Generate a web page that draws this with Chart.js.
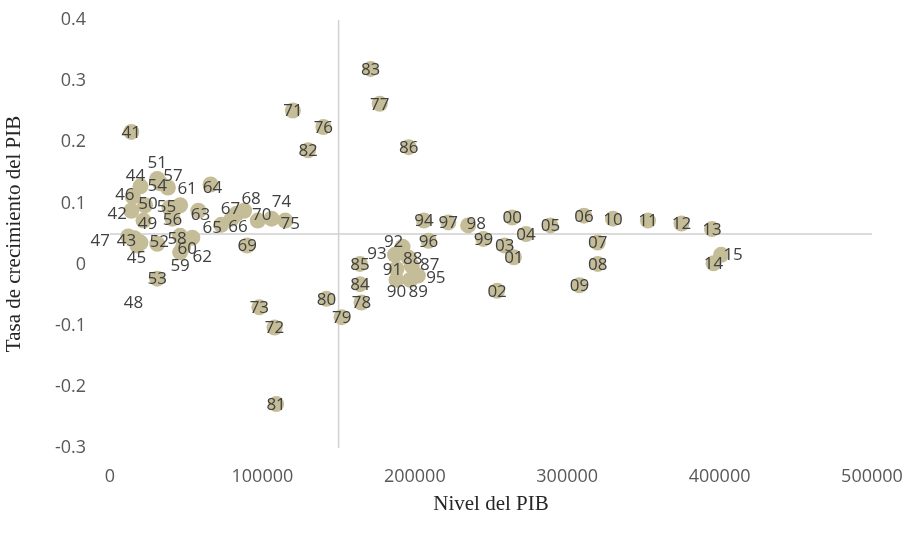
<!DOCTYPE html>
<html>
<head>
<meta charset="utf-8">
<script src="https://cdn.jsdelivr.net/npm/chart.js@4"></script>
<style>
  body { margin: 0; background: #fff; }
</style>
</head>
<body>
<canvas id="grafico" width="912" height="540"></canvas>
<script>
// Años (etiqueta de cada punto), 1941-2015
const anos = ['41','42','43','44','45','46','47','48','49','50',
              '51','52','53','54','55','56','57','58','59','60',
              '61','62','63','64','65','66','67','68','69','70',
              '71','72','73','74','75','76','77','78','79','80',
              '81','82','83','84','85','86','87','88','89','90',
              '91','92','93','94','95','96','97','98','99','00',
              '01','02','03','04','05','06','07','08','09','10',
              '11','12','13','14','15'];

// Nivel del PIB (eje X)
const nivelPib = [14000, 14000, 16000, 20000, 18000, 15000, 12000, 20000, 22000, 23000,
                  31000, 31000, 31000, 33000, 39000, 41000, 38000, 46000, 46000, 48000,
                  46000, 54000, 58000, 66000, 73000, 80000, 83000, 88000, 90000, 97000,
                  120000, 108000, 98000, 106000, 115000, 140000, 177000, 165000, 152000, 142000,
                  109000, 130000, 171000, 164000, 164000, 196000, 198000, 196000, 197000, 188000,
                  188000, 192000, 187000, 206000, 202000, 209000, 222000, 235000, 245000, 264000,
                  265000, 254000, 259000, 273000, 289000, 311000, 320000, 320000, 308000, 330000,
                  353000, 375000, 395000, 396000, 401000];

// Tasa de crecimiento del PIB (eje Y)
const tasaCrecimiento = [0.217, 0.088, 0.043, 0.128, 0.031, 0.111, 0.046, 0.036, 0.072, 0.097,
                         0.140, 0.034, -0.023, 0.133, 0.093, 0.075, 0.126, 0.047, 0.020, 0.029,
                         0.097, 0.044, 0.088, 0.131, 0.065, 0.075, 0.083, 0.088, 0.031, 0.072,
                         0.252, -0.103, -0.070, 0.075, 0.072, 0.225, 0.263, -0.062, -0.086, -0.056,
                         -0.228, 0.187, 0.320, -0.032, 0.001, 0.192, -0.002, 0.011, -0.025, -0.025,
                         -0.007, 0.029, 0.016, 0.072, -0.018, 0.039, 0.069, 0.064, 0.042, 0.077,
                         0.012, -0.043, 0.031, 0.050, 0.064, 0.080, 0.036, 0.001, -0.034, 0.075,
                         0.072, 0.067, 0.058, 0.002, 0.016];

// Donde se cruzan los ejes
const cruceX = 150000;
const cruceY = 0.05;

// Etiquetas que en el original están movidas respecto a su punto (px)
const desplazamientoEtiqueta = {
    '42': [-14, 2], '43': [-8, 2], '44': [-5, -11], '45': [-1, 12], '46': [-8, -3],
    '47': [-28, 4], '48': [-7, 60], '49': [4, 3], '50': [3, -2], '51': [0, -17],
    '52': [2, -3], '54': [-3, 2], '55': [-3, -2], '57': [5, -12], '58': [-3, 2],
    '59': [0, 13], '60': [4, 1], '61': [7, -17], '62': [10, 18], '63': [2, 3],
    '64': [2, 3], '65': [-9, 2], '66': [6, 7], '67': [-6, -6], '68': [7, -13],
    '70': [4, -6], '74': [10, -18], '75': [5, 3],
    '87': [18, -2], '88': [4, 0], '89': [8, 11], '90': [0, 11], '91': [-4, 0],
    '92': [-9, -6], '93': [-18, -2], '95': [18, 2], '98': [8, -2], '15': [12, -1]
};

const puntos = nivelPib.map((x, i) => ({ x: x, y: tasaCrecimiento[i] }));

// Dibuja las dos líneas de ejes que se cruzan dentro del gráfico
const ejesCruzados = {
    id: 'ejesCruzados',
    beforeDatasetsDraw(chart) {
        const { ctx, chartArea, scales } = chart;
        const px = scales.x.getPixelForValue(cruceX);
        const py = scales.y.getPixelForValue(cruceY);
        ctx.save();
        ctx.strokeStyle = '#D0D0D0';
        ctx.lineWidth = 1.5;
        ctx.beginPath();
        ctx.moveTo(px, chartArea.top);
        ctx.lineTo(px, chartArea.bottom);
        ctx.moveTo(chartArea.left, py);
        ctx.lineTo(chartArea.right, py);
        ctx.stroke();
        ctx.restore();
    }
};

// Etiqueta de año sobre cada punto
const etiquetasAno = {
    id: 'etiquetasAno',
    afterDatasetsDraw(chart) {
        const ctx = chart.ctx;
        const meta = chart.getDatasetMeta(0);
        ctx.save();
        ctx.font = '17px "Open Sans"';
        ctx.fillStyle = '#404040';
        ctx.textAlign = 'center';
        ctx.textBaseline = 'middle';
        meta.data.forEach((p, i) => {
            const d = desplazamientoEtiqueta[anos[i]] || [0, 0];
            ctx.fillText(anos[i], p.x + d[0], p.y + d[1] + 1);
        });
        ctx.restore();
    }
};

// Rejilla invisible: sólo sirve para separar las etiquetas del área
const rejillaOculta = (largo) => ({
    display: true,
    color: 'rgba(0,0,0,0)',
    drawOnChartArea: false,
    drawTicks: true,
    tickLength: largo
});

new Chart(document.getElementById('grafico'), {
    type: 'scatter',
    data: {
        datasets: [{
            data: puntos,
            backgroundColor: '#C4BD97',
            borderWidth: 0,
            pointRadius: 8,
            pointHoverRadius: 8
        }]
    },
    options: {
        responsive: false,
        animation: false,
        layout: { padding: { left: 0, right: 40, top: 20, bottom: 0 } },
        plugins: {
            legend: { display: false },
            tooltip: { enabled: false }
        },
        scales: {
            x: {
                type: 'linear',
                min: 0,
                max: 500000,
                grid: rejillaOculta(18),
                border: { display: false },
                ticks: {
                    stepSize: 100000,
                    padding: 0,
                    color: '#595959',
                    font: { family: 'Open Sans', size: 18 },
                    callback: v => String(v)
                },
                title: {
                    display: true,
                    text: 'Nivel del PIB',
                    color: '#262626',
                    font: { family: 'Liberation Serif', size: 21 },
                    padding: { top: 0, bottom: 23 }
                },
                afterFit: s => { s.height = 92; }
            },
            y: {
                min: -0.3,
                max: 0.4,
                grid: rejillaOculta(24),
                border: { display: false },
                ticks: {
                    stepSize: 0.1,
                    padding: 0,
                    color: '#595959',
                    font: { family: 'Open Sans', size: 18 },
                    callback: v => String(Math.round(v * 10) / 10)
                },
                title: {
                    display: true,
                    text: 'Tasa de crecimiento del PIB',
                    color: '#262626',
                    font: { family: 'Liberation Serif', size: 21 },
                    padding: { top: 2, bottom: 0 }
                },
                afterFit: s => { s.width = 110; }
            }
        }
    },
    plugins: [ejesCruzados, etiquetasAno]
});
</script>
</body>
</html>
